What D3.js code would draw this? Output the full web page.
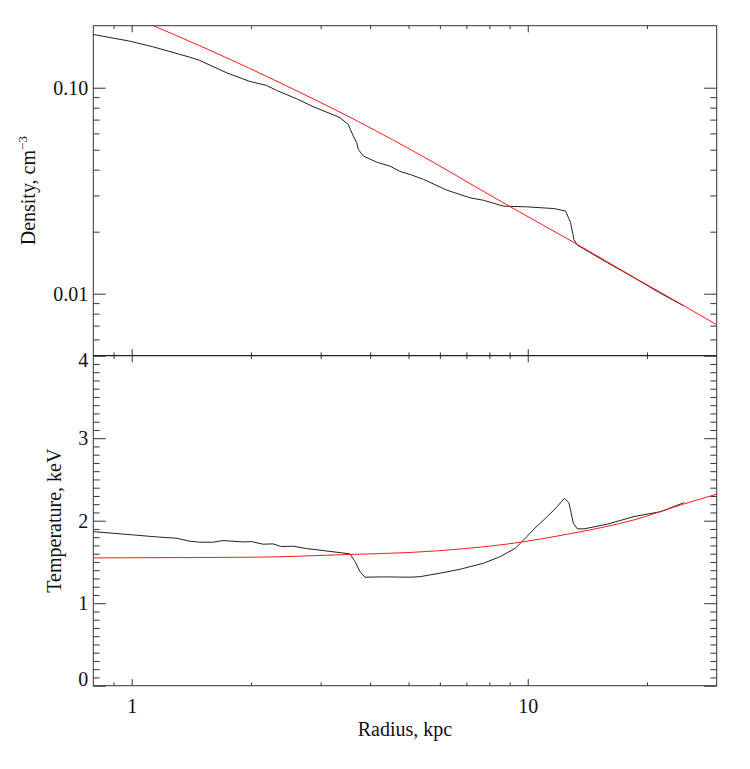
<!DOCTYPE html>
<html>
<head>
<meta charset="utf-8">
<script src="https://cdn.jsdelivr.net/npm/d3@7"></script>
<style>
  body { margin: 0; background: #fff; }
  text { font-family: "Liberation Serif", "Times New Roman", serif; fill: #111; }
</style>
</head>
<body>
<div id="d3"></div>
<script>
// radius in kpc, density in cm^-3 (black = data, red = model)
const densityRadius = [0.797, 0.987, 1.13, 1.40, 1.484, 1.734, 1.986, 2.189, 2.321, 2.608, 2.872, 3.166, 3.357, 3.523, 3.627, 3.70, 3.734, 3.844, 4.157, 4.491, 4.762, 5.05, 5.454, 6.252, 7.158, 7.737, 8.693, 9.965, 11.64, 12.46, 12.83, 13.08, 13.34, 15.89, 18.55, 21.67, 24.83];
const densityValue = [0.1815, 0.1684, 0.1581, 0.1408, 0.1357, 0.1183, 0.1073, 0.1026, 0.0970, 0.0884, 0.0809, 0.0750, 0.0715, 0.0663, 0.0582, 0.0541, 0.0502, 0.0466, 0.0435, 0.0416, 0.0392, 0.0379, 0.0359, 0.0318, 0.0292, 0.0284, 0.0266, 0.0264, 0.0259, 0.0252, 0.0221, 0.01835, 0.01722, 0.01414, 0.01196, 0.01003, 0.00871];

const densityModelRadius = [0.797, 1.13, 1.484, 1.986, 2.659, 3.357, 5.05, 9.04, 13.34, 18.55, 24.83, 30.16];
const densityModelValue = [0.2653, 0.2006, 0.1599, 0.1241, 0.0949, 0.0761, 0.0502, 0.0264, 0.01735, 0.0120, 0.00873, 0.00702];

// temperature in keV
const tempRadius = [0.797, 1.006, 1.153, 1.296, 1.40, 1.484, 1.603, 1.70, 1.91, 2.006, 2.146, 2.275, 2.389, 2.556, 2.764, 3.045, 3.557, 3.663, 3.771, 3.882, 4.32, 5.05, 5.35, 6.012, 6.755, 7.737, 8.528, 9.309, 9.77, 10.36, 11.2, 11.87, 12.38, 12.7, 12.88, 13.03, 13.34, 13.86, 15.89, 18.55, 21.67, 24.83];
const tempValue = [1.868, 1.828, 1.804, 1.788, 1.752, 1.739, 1.739, 1.759, 1.743, 1.747, 1.715, 1.719, 1.686, 1.691, 1.662, 1.638, 1.598, 1.504, 1.383, 1.315, 1.319, 1.315, 1.322, 1.364, 1.412, 1.485, 1.565, 1.667, 1.767, 1.897, 2.05, 2.171, 2.273, 2.219, 2.091, 1.97, 1.901, 1.901, 1.958, 2.05, 2.11, 2.219];

const tempModelRadius = [0.797, 1.296, 2.065, 3.557, 5.05, 7.025, 9.583, 12.58, 18.55, 24.83, 30.16];
const tempModelValue = [1.549, 1.553, 1.558, 1.591, 1.615, 1.664, 1.739, 1.836, 2.010, 2.204, 2.325];

// ticks
const xMajor = [1, 10];
const xMinor = [0.9, 2, 3, 4, 5, 6, 7, 8, 9, 20];
const xTickLabels = ["1", "10"];
const densityMajor = [0.01, 0.1];
const densityMinor = [0.006, 0.007, 0.008, 0.009, 0.02, 0.03, 0.04, 0.05, 0.06, 0.07, 0.08, 0.09];
const densityTickLabels = ["0.01", "0.10"];
const tempMajor = [0, 1, 2, 3, 4];
const tempMinor = d3.range(1, 40).filter((i) => i % 10 != 0).map((i) => i / 10);
const tempTickLabels = ["0", "1", "2", "3", "4"];

function init() {
  const chartWidth = 750;
  const chartHeight = 769;

  const left = 93.3;
  const right = 716.7;
  const top = 25.7;
  const middle = 355.7;
  const bottom = 685.7;

  const svg = d3
    .select("#d3")
    .append("svg")
    .attr("width", chartWidth)
    .attr("height", chartHeight);

  const x = d3.scaleLog().domain([0.8, 30]).range([left, right]);
  const yDensity = d3.scaleLog().domain([0.005, 0.2]).range([middle, top]);
  const yTemp = d3.scaleLinear().domain([0, 4]).range([bottom, middle]);

  const defs = svg.append("defs");
  defs.append("clipPath").attr("id", "clipTop")
    .append("rect").attr("x", left).attr("y", top)
    .attr("width", right - left).attr("height", middle - top);
  defs.append("clipPath").attr("id", "clipBottom")
    .append("rect").attr("x", left).attr("y", middle)
    .attr("width", right - left).attr("height", bottom - middle);

  // x ticks are ~2% of panel height, y ticks ~2% of plot width
  const xMajorLen = 6.6, xMinorLen = 3.3;
  const yMajorLen = 12.5, yMinorLen = 6.3;

  function ticks(axis, translate) {
    const g = svg.append("g")
      .attr("transform", translate)
      .call(axis);
    g.select(".domain").remove();
    g.selectAll(".tick line").attr("stroke", "#333").attr("stroke-width", 1);
    return g;
  }

  // ------------
  // PANEL FRAMES + TICKS
  // ------------
  [[top, middle], [middle, bottom]].forEach(([y0, y1]) => {
    ticks(d3.axisTop(x).tickValues(xMajor).tickSize(-xMajorLen).tickFormat(""), `translate(0,${y0})`);
    ticks(d3.axisTop(x).tickValues(xMinor).tickSize(-xMinorLen).tickFormat(""), `translate(0,${y0})`);
    ticks(d3.axisBottom(x).tickValues(xMinor).tickSize(-xMinorLen).tickFormat(""), `translate(0,${y1})`);
  });
  ticks(d3.axisBottom(x).tickValues(xMajor).tickSize(-xMajorLen).tickFormat(""), `translate(0,${middle})`);

  const xLabelAxis = ticks(
    d3.axisBottom(x).tickValues(xMajor).tickSize(-xMajorLen).tickPadding(12.8)
      .tickFormat((d, i) => xTickLabels[i]),
    `translate(0,${bottom})`
  );
  xLabelAxis.selectAll("text").attr("font-size", 20).attr("font-family", null).attr("fill", "#111");

  // density y ticks
  const denLabels = ticks(
    d3.axisLeft(yDensity).tickValues(densityMajor).tickSize(-yMajorLen).tickPadding(5)
      .tickFormat((d, i) => densityTickLabels[i]),
    `translate(${left},0)`
  );
  denLabels.selectAll("text").attr("font-size", 20).attr("font-family", null).attr("fill", "#111");
  ticks(d3.axisLeft(yDensity).tickValues(densityMinor).tickSize(-yMinorLen).tickFormat(""), `translate(${left},0)`);
  ticks(d3.axisRight(yDensity).tickValues(densityMajor).tickSize(-yMajorLen).tickFormat(""), `translate(${right},0)`);
  ticks(d3.axisRight(yDensity).tickValues(densityMinor).tickSize(-yMinorLen).tickFormat(""), `translate(${right},0)`);

  // temperature y ticks
  const tempLabels = ticks(
    d3.axisLeft(yTemp).tickValues(tempMajor).tickSize(-yMajorLen).tickPadding(5)
      .tickFormat((d, i) => tempTickLabels[i]),
    `translate(${left},0)`
  );
  tempLabels.selectAll("text")
    .attr("font-size", 20).attr("font-family", null).attr("fill", "#111")
    .attr("dy", (d) => (d == 0 ? "-0.02em" : d == 4 ? "0.56em" : "0.32em"));
  ticks(d3.axisLeft(yTemp).tickValues(tempMinor).tickSize(-yMinorLen).tickFormat(""), `translate(${left},0)`);
  ticks(d3.axisRight(yTemp).tickValues(tempMajor).tickSize(-yMajorLen).tickFormat(""), `translate(${right},0)`);
  ticks(d3.axisRight(yTemp).tickValues(tempMinor).tickSize(-yMinorLen).tickFormat(""), `translate(${right},0)`);

  svg.append("rect")
    .attr("x", left).attr("y", top)
    .attr("width", right - left).attr("height", bottom - top)
    .attr("fill", "none").attr("stroke", "#333").attr("stroke-width", 1);
  svg.append("line")
    .attr("x1", left).attr("x2", right)
    .attr("y1", middle).attr("y2", middle)
    .attr("stroke", "#222").attr("stroke-width", 1.2);

  // ------------
  // CURVES
  // ------------
  function curve(radius, values, yScale, color, clip, smooth) {
    const pts = radius.map((r, i) => [r, values[i]]);
    const line = d3.line()
      .x((d) => x(d[0]))
      .y((d) => yScale(d[1]));
    if (smooth) line.curve(d3.curveMonotoneX);
    svg.append("path")
      .datum(pts)
      .attr("clip-path", `url(#${clip})`)
      .attr("fill", "none")
      .attr("stroke", color)
      .attr("stroke-width", 1)
      .attr("d", line);
  }

  curve(densityRadius, densityValue, yDensity, "#222", "clipTop", false);
  curve(densityModelRadius, densityModelValue, yDensity, "#ff1a1a", "clipTop", true);
  curve(tempRadius, tempValue, yTemp, "#222", "clipBottom", false);
  curve(tempModelRadius, tempModelValue, yTemp, "#ff1a1a", "clipBottom", true);

  // ------------
  // AXIS TITLES
  // ------------
  svg.append("text")
    .attr("x", (left + right) / 2)
    .attr("y", 736)
    .attr("text-anchor", "middle")
    .attr("font-size", 20)
    .text("Radius, kpc");

  const denTitle = svg.append("text")
    .attr("transform", `translate(34.5,${(top + middle) / 2}) rotate(-90)`)
    .attr("text-anchor", "middle")
    .attr("font-size", 20);
  denTitle.append("tspan").text("Density, cm");
  denTitle.append("tspan").attr("font-size", 13).attr("dy", -8).text("\u22123");

  svg.append("text")
    .attr("transform", `translate(60.5,${(middle + bottom) / 2}) rotate(-90)`)
    .attr("text-anchor", "middle")
    .attr("font-size", 20)
    .text("Temperature, keV");
}

init();
</script>
</body>
</html>
